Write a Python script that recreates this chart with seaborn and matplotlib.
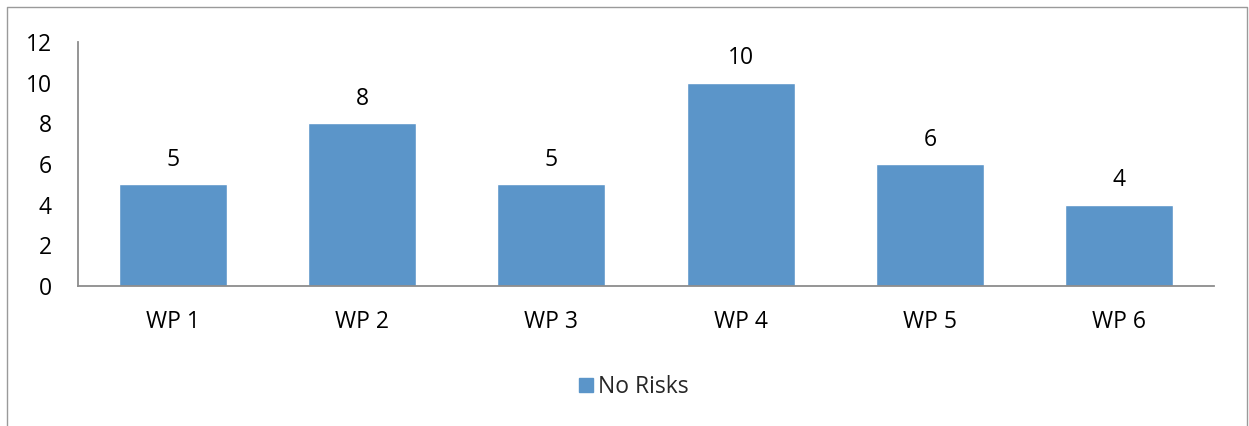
import matplotlib
matplotlib.use("Agg")

import matplotlib.pyplot as plt
import matplotlib.lines as mlines
import matplotlib.patches as mpatches
import pandas as pd
import seaborn as sns

categories = ["WP 1", "WP 2", "WP 3", "WP 4", "WP 5", "WP 6"]
no_risks = [5, 8, 5, 10, 6, 4]
series_name = "No Risks"

df = pd.DataFrame({"package": categories, "count": no_risks})

sns.set_style("white")
plt.rcParams["font.family"] = ["Open Sans", "DejaVu Sans"]

bar_color = "#5B95C9"
axis_color = "#8C8C8C"
font_size = 16.5

fig = plt.figure(figsize=(12.49, 4.26), dpi=100)
ax = fig.add_axes([78 / 1249, 1 - 286 / 426, (1214 - 78) / 1249, (286 - 42) / 426])

sns.barplot(data=df, x="package", y="count", color=bar_color, width=0.57,
            saturation=1, ax=ax)

for container in ax.containers:
    ax.bar_label(container, padding=9, fontsize=font_size, color="black")

ax.set_ylim(0, 12)
ax.set_yticks(range(0, 13, 2))
ax.set_xlim(-0.5, len(categories) - 0.5)
ax.set_xlabel("")
ax.set_ylabel("")
ax.tick_params(axis="both", length=0, labelsize=font_size, colors="black")
ax.tick_params(axis="y", pad=19)
ax.tick_params(axis="x", pad=17)

for side in ["top", "right"]:
    ax.spines[side].set_visible(False)
for side in ["left", "bottom"]:
    ax.spines[side].set_color(axis_color)
    ax.spines[side].set_linewidth(1.3)

# chart border (left, top, right)
bx0, bx1, by1 = 7 / 1249, 1247 / 1249, 1 - 7 / 426
fig.add_artist(mlines.Line2D([bx0, bx0, bx1, bx1], [0, by1, by1, 0],
                             transform=fig.transFigure, color="#9A9A9A",
                             linewidth=1))

handle = mpatches.Patch(color=bar_color, label=series_name)
fig.legend(handles=[handle], loc="center", bbox_to_anchor=(634 / 1249, 1 - 387 / 426),
           frameon=False, fontsize=font_size, handlelength=0.6, handleheight=0.6,
           handletextpad=0.25)

fig.savefig("out.png", dpi=100)
